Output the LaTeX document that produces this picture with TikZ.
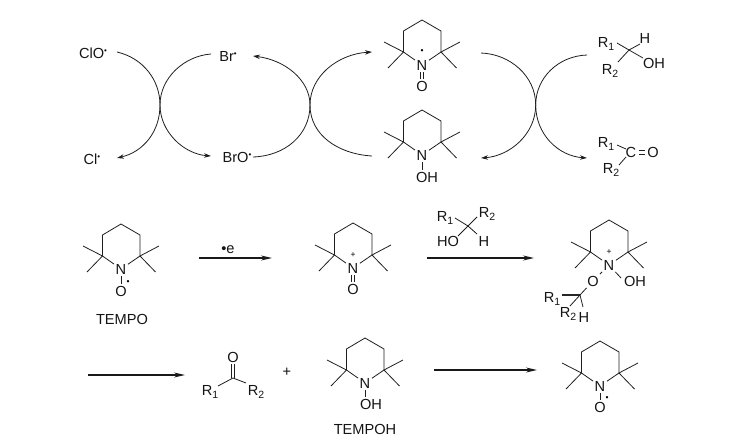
\documentclass[tikz,border=0pt]{standalone}
\usepackage{fontspec}
\setmainfont{Liberation Sans}
\usetikzlibrary{arrows.meta}
\newcommand\sbs[1]{\raisebox{-3pt}{\fontsize{10.5}{10.5}\selectfont #1}}
\newcommand\rad{\raisebox{5pt}{\fontsize{8}{8}\selectfont •}}
\tikzset{
  atom/.style={inner sep=1.5pt,font=\fontsize{14.6}{14.6}\selectfont,text height=10.4pt,text depth=0pt,text=black!92},
  mark dot/.style={inner sep=0pt,font=\fontsize{8.5}{8.5}\selectfont,text=black},
  bond/.style={line width=0.8pt,draw=black!88},
  curvearrow/.style={line width=0.8pt,draw=black!88},
  tipped/.style={-{Stealth[length=7pt,width=4.5pt]}},
  rxn/.style={line width=1.5pt,draw=black!90,-{Stealth[length=11pt,width=5pt]}}
}
% ring: name, x, y of the nitrogen
\newcommand\ringat[3]{%
  \node[atom] (#1) at (#2,#3) {N};
  \coordinate (#1c2) at (#2-18.5,#3-13);
  \coordinate (#1c3) at (#2-18.5,#3-34);
  \coordinate (#1c4) at (#2,#3-45);
  \coordinate (#1c5) at (#2+19,#3-34);
  \coordinate (#1c6) at (#2+19,#3-13);
  \coordinate (#1m1) at (#2-38,#3-23);
  \coordinate (#1m2) at (#2-34,#3+3);
  \coordinate (#1m3) at (#2+38,#3-23);
  \coordinate (#1m4) at (#2+34.5,#3+3);
  \draw[bond] (#1) -- (#1c2) -- (#1c3) -- (#1c4) -- (#1c5) -- (#1c6) -- (#1);
  \draw[bond] (#1m1) -- (#1c2) -- (#1m2);
  \draw[bond] (#1m3) -- (#1c6) -- (#1m4);
}
\begin{document}
\begin{tikzpicture}[x=1pt,y=-1pt]
\useasboundingbox (0,0) rectangle (748,442);
% --- top cycle
\node[atom] (clo) at (93,53) {ClO\rad};
\node[atom] (cl) at (92,159) {Cl\rad};
\node[atom] (br) at (228,56) {Br\rad};
\node[atom] (bro) at (237,157) {BrO\rad};
\ringat{ra}{422}{65}
\node[mark dot] (radA) at (422,52) {•};
\node[atom] (oa) at (422,86) {O};
\draw[bond] ([xshift=-1.5pt]ra.south) -- ([xshift=-1.5pt]oa.north);
\draw[bond] ([xshift=1.5pt]ra.south) -- ([xshift=1.5pt]oa.north);
\ringat{rb}{422}{155}
\node[atom] (ohb) at (427,177) {OH};
\draw[bond] (rb.south) -- (rb.south |- ohb.north);
% alcohol
\coordinate (alc) at (629,50);
\node[atom] (alcR1) at (606,42) {R\sbs{1}};
\node[atom] (alcH) at (645,38) {H};
\node[atom] (alcOH) at (654,63) {OH};
\node[atom] (alcR2) at (610,69) {R\sbs{2}};
\draw[bond] ([shift={(11,1)}]alcR1.center) -- (alc);
\draw[bond] (alc) -- ([shift={(-5,6)}]alcH.center);
\draw[bond] (alc) -- ([shift={(-11,-5)}]alcOH.center);
\draw[bond] (alc) -- ([shift={(8,-7)}]alcR2.center);
% carbonyl
\node[atom] (kc) at (631,152) {C};
\node[atom] (kO) at (653,152) {O};
\node[atom] (kR1) at (606,142) {R\sbs{1}};
\node[atom] (kR2) at (611,168) {R\sbs{2}};
\draw[bond] ([shift={(11,3)}]kR1.center) -- ([shift={(-5,-3)}]kc.center);
\draw[bond] ([shift={(8,-3)}]kR2.center) -- ([shift={(-5,5)}]kc.center);
\draw[bond] ([shift={(1,-2)}]kc.east) -- ([shift={(-1,-2)}]kO.west);
\draw[bond] ([shift={(1,2)}]kc.east) -- ([shift={(-1,2)}]kO.west);
% curved arrows
\draw[curvearrow] ([shift={(24,-1)}]clo.center) .. controls (143,58) and (160,80) .. (160,105);
\draw[curvearrow,tipped] (160,105) .. controls (160,132) and (143,152) .. ([shift={(25,-1)}]cl.center);
\draw[curvearrow] ([shift={(-17,-2)}]br.center) .. controls (184,56) and (160,78) .. (160,105);
\draw[curvearrow,tipped] (160,105) .. controls (160,132) and (184,154) .. ([shift={(-26,-1)}]bro.center);
\draw[curvearrow] ([shift={(16,0)}]bro.center) .. controls (285,156) and (310,135) .. (310,105);
\draw[curvearrow,tipped] (310,105) .. controls (310,76) and (338,54) .. ([shift={(-50,-13)}]ra.center);
\draw[curvearrow] ([shift={(-50,1)}]rb.center) .. controls (338,154) and (310,135) .. (310,105);
\draw[curvearrow,tipped] (310,105) .. controls (310,80) and (285,60) .. ([shift={(25,0)}]br.center);
\draw[curvearrow] ([shift={(59,-12)}]ra.center) .. controls (510,54) and (535.7,76) .. (535.7,105);
\draw[curvearrow,tipped] (535.7,105) .. controls (535.7,134) and (510,156) .. ([shift={(59,3)}]rb.center);
\draw[curvearrow] ([shift={(-42,5)}]alc.center) .. controls (558,56) and (535.7,78) .. (535.7,105);
\draw[curvearrow,tipped] (535.7,105) .. controls (535.7,134) and (558,156) .. ([shift={(-44,6)}]kc.center);
% --- second row
\ringat{rc}{121}{269}
\node[atom] (oc) at (121,291) {O};
\node[mark dot] (radC) at (128,283) {•};
\draw[bond] (rc.south) -- (oc.north);
\node[atom] (tempo) at (122,319) {TEMPO};
\coordinate (a1s) at (199,258);
\coordinate (a1e) at (272,258);
\draw[rxn] (a1s) -- (a1e);
\node[atom] (minuse) at (228,248) {•e};
\ringat{rd}{353}{268}
\node[mark dot] (plusD) at (353,255) {+};
\node[atom] (od) at (353,289) {O};
\draw[bond] ([xshift=-1.5pt]rd.south) -- ([xshift=-1.5pt]od.north);
\draw[bond] ([xshift=1.5pt]rd.south) -- ([xshift=1.5pt]od.north);
\coordinate (a2s) at (427,258);
\coordinate (a2e) at (534,258);
\draw[rxn] (a2s) -- (a2e);
\coordinate (rgC) at (468,226);
\node[atom] (rgR1) at (445,216) {R\sbs{1}};
\node[atom] (rgR2) at (487,212) {R\sbs{2}};
\node[atom] (rgHO) at (448,241) {HO};
\node[atom] (rgH) at (484,241) {H};
\draw[bond] ([shift={(10,2)}]rgR1.center) -- (rgC);
\draw[bond] (rgC) -- ([shift={(-10,5)}]rgR2.center);
\draw[bond] (rgC) -- ([shift={(10,-5)}]rgHO.center);
\draw[bond] (rgC) -- ([shift={(-7,-7)}]rgH.center);
\ringat{re}{609}{265}
\node[mark dot] (plusE) at (609,252) {+};
\node[atom] (oe) at (593,281) {O};
\node[atom] (ohe) at (635,281) {OH};
\draw[bond] (re) -- (oe);
\draw[bond] (re) -- ([shift={(-14,-3)}]ohe.center);
\coordinate (ce) at (580,295);
\node[atom] (eR1) at (552,297) {R\sbs{1}};
\node[atom] (eR2) at (568,312) {R\sbs{2}};
\node[atom] (eH) at (584,317) {H};
\draw[bond] (oe) -- (ce);
\draw[line width=1.2pt,draw=black!85] ([shift={(10,-2)}]eR1.center) -- (ce);
\draw[bond] (ce) -- ([shift={(2,-6)}]eR2.center);
\draw[bond] (ce) -- ([shift={(-1,-10)}]eH.center);
% --- third row
\coordinate (a3s) at (88,375);
\coordinate (a3e) at (185,375);
\draw[rxn] (a3s) -- (a3e);
\coordinate (kf) at (233,378);
\node[atom] (fO) at (233,357) {O};
\node[atom] (fR1) at (210,390) {R\sbs{1}};
\node[atom] (fR2) at (256,390) {R\sbs{2}};
\draw[bond] ([shift={(8,-4)}]fR1.center) -- (kf) -- ([shift={(-10,-7)}]fR2.center);
\draw[bond] ([xshift=-1.7pt]kf) -- ([xshift=-1.7pt]fO.south);
\draw[bond] ([xshift=1.7pt]kf) -- ([xshift=1.7pt]fO.south);
\node[atom] (plus) at (287,371) {+};
\ringat{rf}{365}{383}
\node[atom] (ohf) at (371,404) {OH};
\draw[bond] (rf.south) -- (rf.south |- ohf.north);
\node[atom] (tempoh) at (365,429) {TEMPOH};
\coordinate (a4s) at (434,370);
\coordinate (a4e) at (537,370);
\draw[rxn] (a4s) -- (a4e);
\ringat{rg}{600}{386}
\node[atom] (og) at (600,407) {O};
\node[mark dot] (radG) at (607,399) {•};
\draw[bond] (rg.south) -- (og.north);
\end{tikzpicture}
\end{document}
